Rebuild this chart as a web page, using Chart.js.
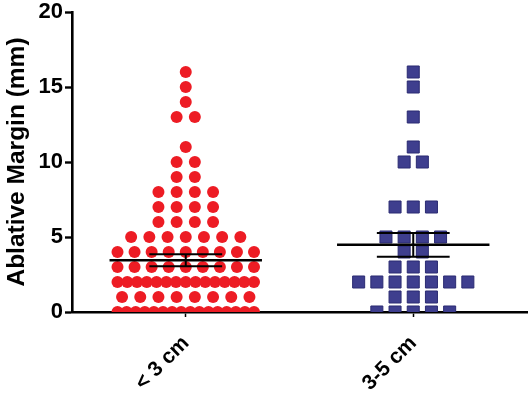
<!DOCTYPE html>
<html>
<head>
<meta charset="utf-8">
<script src="https://cdn.jsdelivr.net/npm/chart.js@4"></script>
<style>
  html, body { margin: 0; padding: 0; background: #ffffff; }
  #wrap { width: 529px; height: 396px; }
</style>
</head>
<body>
<div id="wrap"><canvas id="c" width="529" height="396"></canvas></div>
<script>
// ---- data ----
const categories = ['< 3 cm', '3-5 cm'];
const yTicks = [0, 5, 10, 15, 20];
const smallTumour = [
  16, 15, 14, 13, 13, 11, 10, 10, 9, 9,
  8, 8, 8, 8, 7, 7, 7, 7, 6, 6, 6, 6,
  5, 5, 5, 5, 5, 5, 5,
  4, 4, 4, 4, 4, 4, 4, 4, 4,
  3, 3, 3, 3, 3, 3, 3, 3, 3,
  2, 2, 2, 2, 2, 2, 2, 2, 2, 2, 2, 2, 2, 2, 2,
  1, 1, 1, 1, 1, 1, 1, 1,
  0, 0, 0, 0, 0, 0, 0, 0, 0, 0, 0, 0, 0, 0, 0, 0
];
const largeTumour = [
  16, 15, 13, 11, 10, 10, 7, 7, 7,
  5, 5, 5, 5, 4, 4, 3, 3, 3,
  2, 2, 2, 2, 2, 2, 2,
  1, 1, 1,
  0, 0, 0, 0, 0
];
const groupMeans = [3.45, 4.48];
const groupSEM = [0.40, 0.79];

// ---- column-scatter layout (spread equal values sideways) ----
function columnScatter(values, centre) {
  const byValue = {};
  values.forEach(v => { (byValue[v] = byValue[v] || []).push(v); });
  const pts = [];
  const step = 0.08, maxSpan = 0.6;
  Object.keys(byValue).forEach(k => {
    const n = byValue[k].length;
    const s = n > 1 ? Math.min(step, maxSpan / (n - 1)) : 0;
    for (let i = 0; i < n; i++) {
      pts.push({ x: centre + (i - (n - 1) / 2) * s, y: Number(k) });
    }
  });
  return pts;
}

const meanPlugin = {
  id: 'meanSem',
  afterDatasetsDraw(chart) {
    const { ctx, scales: { x, y } } = chart;
    ctx.save();
    ctx.strokeStyle = '#000000';
    ctx.lineCap = 'butt';
    groupMeans.forEach((m, i) => {
      const c = i + 1;
      const yM = y.getPixelForValue(m);
      const yHi = y.getPixelForValue(m + groupSEM[i]);
      const yLo = y.getPixelForValue(m - groupSEM[i]);
      ctx.lineWidth = 2.6;
      ctx.beginPath();
      ctx.moveTo(x.getPixelForValue(c - 0.335), yM);
      ctx.lineTo(x.getPixelForValue(c + 0.335), yM);
      ctx.stroke();
      ctx.lineWidth = 2;
      const xc = x.getPixelForValue(c);
      const xl = x.getPixelForValue(c - 0.16);
      const xr = x.getPixelForValue(c + 0.16);
      ctx.beginPath();
      ctx.moveTo(xc, yHi); ctx.lineTo(xc, yLo);
      ctx.moveTo(xl, yHi); ctx.lineTo(xr, yHi);
      ctx.moveTo(xl, yLo); ctx.lineTo(xr, yLo);
      ctx.stroke();
    });
    ctx.restore();
  }
};

const FONT = "'Liberation Sans', Arial, sans-serif";

new Chart(document.getElementById('c'), {
  type: 'scatter',
  data: {
    datasets: [
      {
        label: categories[0],
        data: columnScatter(smallTumour, 1),
        pointStyle: 'circle',
        pointRadius: 6,
        pointHoverRadius: 6,
        backgroundColor: '#ED1C24',
        borderColor: '#ED1C24',
        borderWidth: 0
      },
      {
        label: categories[1],
        data: columnScatter(largeTumour, 2),
        pointStyle: 'rect',
        pointRadius: 8.5,
        pointHoverRadius: 8.5,
        backgroundColor: '#3E3E8E',
        borderColor: '#2B2B72',
        borderWidth: 1
      }
    ]
  },
  options: {
    responsive: false,
    animation: false,
    events: [],
    layout: { autoPadding: false, padding: { top: 12, right: 2, left: 0, bottom: 0 } },
    plugins: { legend: { display: false }, tooltip: { enabled: false } },
    scales: {
      x: {
        type: 'linear',
        min: 0.5,
        max: 2.5,
        afterBuildTicks: (axis) => { axis.ticks = categories.map((c, i) => ({ value: i + 1 })); },
        afterFit: (axis) => { axis.height = 84; axis.paddingRight = 0; axis.paddingLeft = 0; },
        border: { display: true, color: '#000000', width: 2.6 },
        grid: { drawOnChartArea: false, drawTicks: true, tickLength: 5, tickWidth: 1.5, tickColor: '#000000' },
        ticks: {
          autoSkip: false,
          minRotation: 45,
          maxRotation: 45,
          padding: 14,
          color: '#000000',
          font: { family: FONT, size: 21, weight: 'bold' },
          callback: (v) => categories[Math.round(v) - 1] || ''
        }
      },
      y: {
        type: 'linear',
        min: 0,
        max: 20,
        afterBuildTicks: (axis) => { axis.ticks = yTicks.map(v => ({ value: v })); },
        afterFit: (axis) => { axis.width = 72; axis.paddingTop = 0; axis.paddingBottom = 0; },
        border: { display: true, color: '#000000', width: 2.6 },
        grid: { drawOnChartArea: false, drawTicks: true, tickLength: 7, tickWidth: 2.4, tickColor: '#000000' },
        ticks: {
          padding: 2,
          color: '#000000',
          font: { family: FONT, size: 22, weight: 'bold', lineHeight: 1.0 }
        },
        title: {
          display: true,
          text: 'Ablative Margin (mm)',
          color: '#000000',
          padding: { top: 3, bottom: 0 },
          font: { family: FONT, size: 24.5, weight: 'bold' }
        }
      }
    }
  },
  plugins: [meanPlugin]
});
</script>
</body>
</html>
